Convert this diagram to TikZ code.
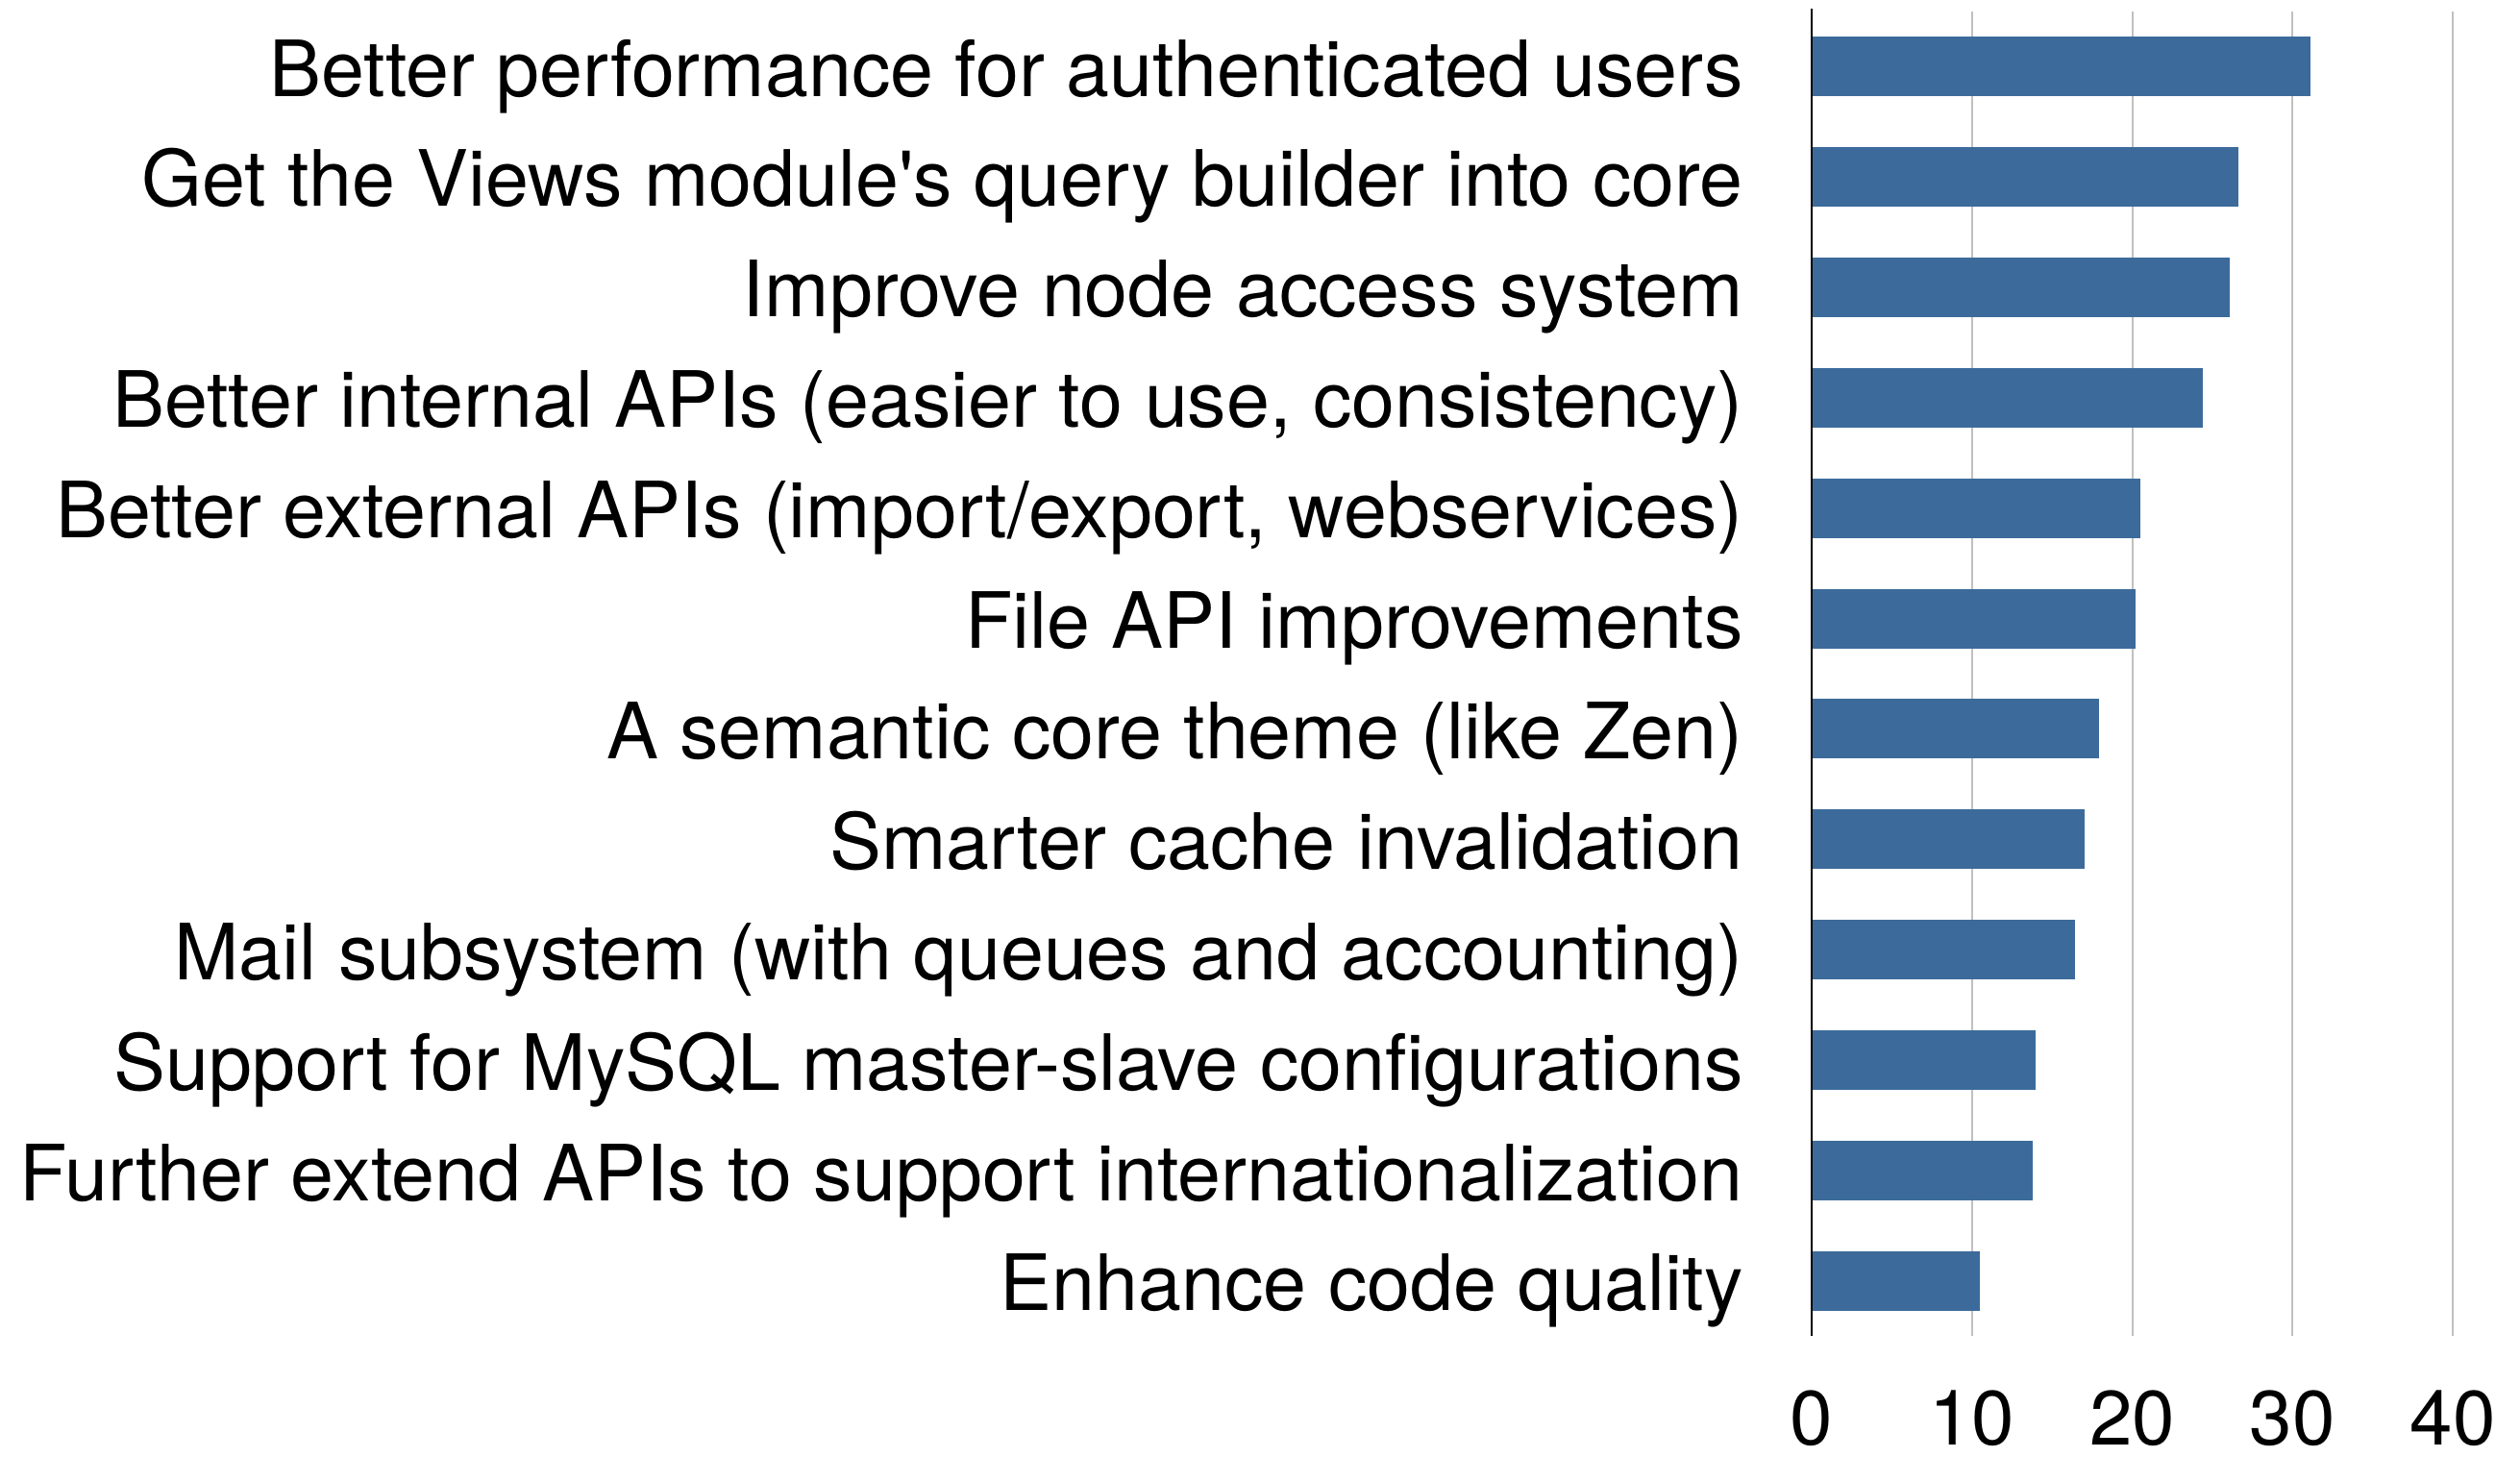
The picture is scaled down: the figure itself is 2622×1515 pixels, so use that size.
\documentclass[tikz,border=0pt]{standalone}
\usepackage{fontspec}
\setmainfont{TeX Gyre Heros}
\definecolor{barblue}{RGB}{60,107,155}
\definecolor{gridgray}{RGB}{192,192,192}
\begin{document}
\begin{tikzpicture}[x=0.5pt,y=-0.5pt,
  lab/.style={anchor=base east,inner sep=0pt,font=\fontsize{40.4pt}{48pt}\selectfont},
  ticklab/.style={anchor=base,inner sep=0pt,font=\fontsize{40pt}{48pt}\selectfont},
  gridline/.style={draw=gridgray,line width=1pt},
  axisline/.style={draw=black,line width=1.2pt},
  barfill/.style={fill=barblue}]
\useasboundingbox (0,0) rectangle (2622,1515);
% grid
\foreach \g in {1,2,3,4}{
  \draw[gridline] ({1885+\g*166.75},12) -- ({1885+\g*166.75},1390);
}
% bars
\foreach \v [count=\i] in {31.1,26.6,26.1,24.4,20.5,20.2,17.9,17.0,16.4,14.0,13.8,10.5}{
  \fill[barfill] (1885,{38+(\i-1)*114.9}) rectangle ({1885+\v*16.675},{100+(\i-1)*114.9});
}
% labels
\foreach \t [count=\i] in {Better performance for authenticated users,
  Get the Views module\textquotesingle s query builder into core,
  Improve node access system,
  {Better internal APIs (easier to use, consistency)},
  {Better external APIs (import/export, webservices)},
  File API improvements,
  A semantic core theme (like Zen),
  Smarter cache invalidation,
  Mail subsystem (with queues and accounting),
  Support for MySQL master-slave configurations,
  Further extend APIs to support internationalization,
  Enhance code quality}{
  \node[lab] (lab\i) at (1814,{100+(\i-1)*114.9}) {\t};
}
% axis
\draw[axisline] (1885,9) -- (1885,1390);
% tick labels
\foreach \n [count=\k from 0] in {0,10,20,30,40}{
  \node[ticklab] (tick\k) at ({1885+\k*166.75},1503) {\n};
}
\end{tikzpicture}
\end{document}
